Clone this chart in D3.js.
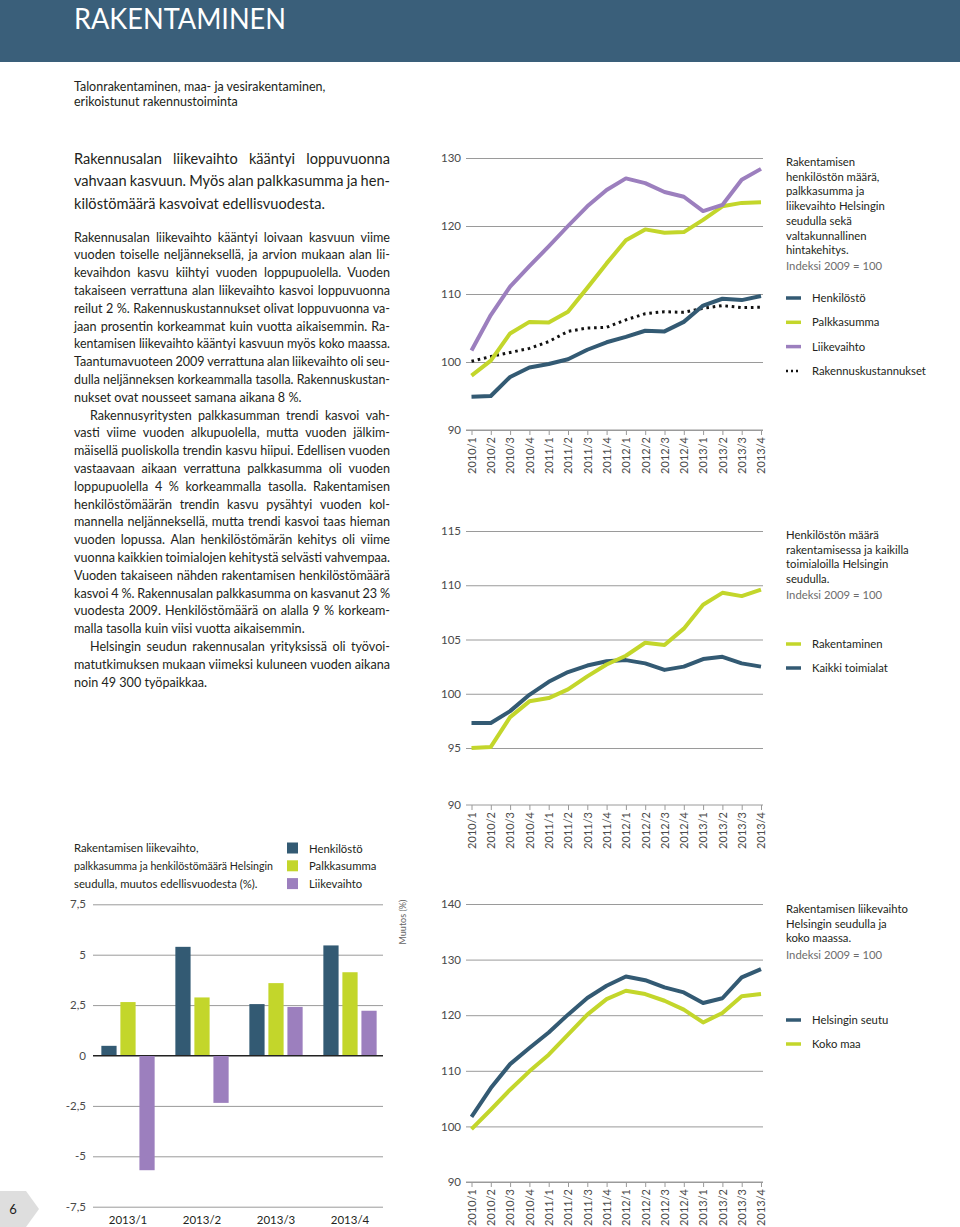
<!DOCTYPE html>
<html>
<head>
<meta charset="utf-8">
<script src="https://cdn.jsdelivr.net/npm/d3@7"></script>
<style>
  body { margin: 0; background: #fff; }
  svg { display: block; font-family: Lato, "Open Sans", sans-serif; }
</style>
</head>
<body>
<div id="page"></div>
<script>
// ---- data ----
var quarters = ["2010/1","2010/2","2010/3","2010/4","2011/1","2011/2","2011/3","2011/4",
                "2012/1","2012/2","2012/3","2012/4","2013/1","2013/2","2013/3","2013/4"];

// chart 1: Helsingin seutu, indeksi 2009 = 100
var henkilosto = [94.9, 95.0, 97.8, 99.2, 99.7, 100.4, 101.8, 102.9, 103.7, 104.6, 104.5, 105.9, 108.3, 109.3, 109.1, 109.7];
var palkkasumma = [98.0, 100.2, 104.2, 105.9, 105.8, 107.4, 110.9, 114.5, 117.9, 119.5, 119.0, 119.1, 120.9, 122.9, 123.4, 123.5];
var liikevaihto = [101.7, 106.9, 111.1, 114.1, 117.0, 120.0, 122.9, 125.3, 127.0, 126.3, 125.0, 124.3, 122.2, 123.1, 126.8, 128.4];
var kustannukset = [100.1, 100.8, 101.4, 102.0, 103.0, 104.5, 105.0, 105.1, 106.2, 107.1, 107.4, 107.3, 107.9, 108.3, 108.0, 108.05];

// chart 2: henkilöstön määrä
var rakentaminen = [95.0, 95.1, 97.85, 99.3, 99.6, 100.4, 101.6, 102.7, 103.5, 104.7, 104.5, 106.0, 108.2, 109.3, 109.0, 109.6];
var kaikkiToimialat = [97.3, 97.3, 98.4, 99.9, 101.1, 102.0, 102.6, 103.0, 103.1, 102.8, 102.2, 102.5, 103.2, 103.4, 102.8, 102.5];

// chart 3: liikevaihto
var helsinginSeutu = [101.7, 106.9, 111.2, 114.1, 116.9, 120.1, 123.1, 125.3, 126.95, 126.3, 125.0, 124.1, 122.2, 123.05, 126.8, 128.3];
var kokoMaa = [99.5, 103.0, 106.6, 109.9, 112.9, 116.5, 120.1, 122.9, 124.4, 123.8, 122.6, 121.0, 118.7, 120.4, 123.4, 123.8];

// bar chart: muutos edellisvuodesta (%)
var barQuarters = ["2013/1", "2013/2", "2013/3", "2013/4"];
var barHenkilosto = [0.48, 5.39, 2.55, 5.46];
var barPalkkasumma = [2.65, 2.88, 3.59, 4.13];
var barLiikevaihto = [-5.69, -2.35, 2.41, 2.22];
var barTicks = [7.5, 5, 2.5, 0, -2.5, -5, -7.5];

var blue = "#335a73", green = "#c3d62b", purple = "#9c7fbe";
var textColor = "#231f20", axisColor = "#4a4a4a", gridColor = "#9a9a9a";

var svg = d3.select("#page").append("svg")
  .attr("width", 960)
  .attr("height", 1227);

// ---- header ----
svg.append("rect").attr("x", 0).attr("y", 0).attr("width", 960).attr("height", 62).attr("fill", "#3a5f7a");
svg.append("text").attr("x", 74).attr("y", 28.5).attr("font-size", 28.5).attr("fill", "#fff")
  .attr("textLength", 212).attr("lengthAdjust", "spacingAndGlyphs")
  .text("RAKENTAMINEN");

svg.append("text").attr("x", 74).attr("y", 90.5).attr("font-size", 12.5).attr("fill", textColor)
  .text("Talonrakentaminen, maa- ja vesirakentaminen,");
svg.append("text").attr("x", 74).attr("y", 105.5).attr("font-size", 12.5).attr("fill", textColor)
  .text("erikoistunut rakennustoiminta");

// ---- justified text helper ----
function textLine(g, str, x, y, width, justify) {
  var t = g.append("text").attr("x", x).attr("y", y);
  if (!justify) { t.text(str); return; }
  var words = str.split(" ");
  var spans = words.map(function(w) { return t.append("tspan").text(w); });
  var widths = spans.map(function(s) { return s.node().getComputedTextLength(); });
  var gap = (width - d3.sum(widths)) / (words.length - 1);
  if (gap < 2.5) {
    // too tight: squeeze the whole line instead
    t.selectAll("tspan").remove();
    t.text(str).attr("textLength", width).attr("lengthAdjust", "spacingAndGlyphs");
    return;
  }
  var cx = x;
  spans.forEach(function(s, i) { s.attr("x", cx); cx += widths[i] + gap; });
}

var lead = [
  "Rakennusalan liikevaihto kääntyi loppuvuonna",
  "vahvaan kasvuun. Myös alan palkkasumma ja hen-",
  "kilöstömäärä kasvoivat edellisvuodesta."
];
var leadG = svg.append("g").attr("font-size", 14.6).attr("fill", textColor);
lead.forEach(function(l, i) {
  textLine(leadG, l, 74, 163.5 + i * 22.5, 316, i < lead.length - 1);
});

var paragraphs = [
  ["Rakennusalan liikevaihto kääntyi loivaan kasvuun viime",
   "vuoden toiselle neljänneksellä, ja arvion mukaan alan lii-",
   "kevaihdon kasvu kiihtyi vuoden loppupuolella. Vuoden",
   "takaiseen verrattuna alan liikevaihto kasvoi loppuvuonna",
   "reilut 2 %. Rakennuskustannukset olivat loppuvuonna va-",
   "jaan prosentin korkeammat kuin vuotta aikaisemmin. Ra-",
   "kentamisen liikevaihto kääntyi kasvuun myös koko maassa.",
   "Taantumavuoteen 2009 verrattuna alan liikevaihto oli seu-",
   "dulla neljänneksen korkeammalla tasolla. Rakennuskustan-",
   "nukset ovat nousseet samana aikana 8 %."],
  ["Rakennusyritysten palkkasumman trendi kasvoi vah-",
   "vasti viime vuoden alkupuolella, mutta vuoden jälkim-",
   "mäisellä puoliskolla trendin kasvu hiipui. Edellisen vuoden",
   "vastaavaan aikaan verrattuna palkkasumma oli vuoden",
   "loppupuolella 4 % korkeammalla tasolla. Rakentamisen",
   "henkilöstömäärän trendin kasvu pysähtyi vuoden kol-",
   "mannella neljänneksellä, mutta trendi kasvoi taas hieman",
   "vuoden lopussa. Alan henkilöstömärän kehitys oli viime",
   "vuonna kaikkien toimialojen kehitystä selvästi vahvempaa.",
   "Vuoden takaiseen nähden rakentamisen henkilöstömäärä",
   "kasvoi 4 %. Rakennusalan palkkasumma on kasvanut 23 %",
   "vuodesta 2009. Henkilöstömäärä on alalla 9 % korkeam-",
   "malla tasolla kuin viisi vuotta aikaisemmin."],
  ["Helsingin seudun rakennusalan yrityksissä oli työvoi-",
   "matutkimuksen mukaan viimeksi kuluneen vuoden aikana",
   "noin 49 300 työpaikkaa."]
];
var bodyG = svg.append("g").attr("font-size", 12.6).attr("fill", textColor);
var lineNo = 0;
paragraphs.forEach(function(p, pi) {
  p.forEach(function(l, i) {
    var indent = (pi > 0 && i === 0) ? 16 : 0;
    textLine(bodyG, l, 74 + indent, 241.5 + lineNo * 17.8, 316 - indent, i < p.length - 1);
    lineNo++;
  });
});

// ---- line charts ----
var x = d3.scalePoint().domain(quarters).range([471.5, 761]);

function gridAndLabels(y, ticks) {
  var g = svg.append("g")
    .attr("transform", "translate(466,0)")
    .call(d3.axisLeft(y).tickValues(ticks).tickSize(-297).tickPadding(5));
  g.select(".domain").remove();
  g.selectAll(".tick line").attr("stroke", gridColor);
  g.selectAll(".tick text").attr("fill", axisColor).attr("font-size", 11.5).attr("font-family", "Lato");
}

function quarterAxis(yPos) {
  var g = svg.append("g")
    .attr("transform", "translate(0," + yPos + ")")
    .call(d3.axisBottom(x).tickSizeInner(5).tickSizeOuter(0));
  g.select(".domain").attr("stroke", gridColor).attr("d", "M466,0H763");
  g.selectAll(".tick line").attr("stroke", gridColor);
  g.selectAll(".tick text")
    .attr("fill", axisColor).attr("font-size", 11).attr("font-family", "Lato")
    .attr("transform", "rotate(-90)")
    .attr("text-anchor", "end")
    .attr("x", -7).attr("y", 0).attr("dy", "0.35em");
}

function drawSeries(y, values, color, dashed) {
  var line = d3.line()
    .x(function(d, i) { return x(quarters[i]); })
    .y(function(d) { return y(d); });
  svg.append("path")
    .datum(values)
    .attr("fill", "none")
    .attr("stroke", dashed ? "#111" : color)
    .attr("stroke-width", dashed ? 3 : 4)
    .attr("stroke-linejoin", "round")
    .attr("stroke-dasharray", dashed ? "2.6,3.8" : null)
    .attr("d", line);
}

function legendBlock(x0, y0, titleLines, note, items, itemY, itemStep) {
  var g = svg.append("g").attr("font-size", 11.3).attr("fill", textColor);
  titleLines.forEach(function(l, i) {
    g.append("text").attr("x", x0).attr("y", y0 + i * 14.7).text(l);
  });
  g.append("text").attr("x", x0).attr("y", y0 + titleLines.length * 14.7 + 1.5)
    .attr("fill", "#6d6d6d").text(note);
  items.forEach(function(it, i) {
    var cy = itemY + i * itemStep;
    g.append("line")
      .attr("x1", x0).attr("x2", x0 + 15).attr("y1", cy).attr("y2", cy)
      .attr("stroke", it.dashed ? "#111" : it.color)
      .attr("stroke-width", it.dashed ? 2.5 : 3.5)
      .attr("stroke-dasharray", it.dashed ? "2,3" : null);
    g.append("text").attr("x", x0 + 26).attr("y", cy + 4).text(it.label);
  });
}

// chart 1
var y1 = d3.scaleLinear().domain([90, 130]).range([430, 158]);
gridAndLabels(y1, [90, 100, 110, 120, 130]);
quarterAxis(430);
drawSeries(y1, kustannukset, "#111", true);
drawSeries(y1, henkilosto, blue);
drawSeries(y1, palkkasumma, green);
drawSeries(y1, liikevaihto, purple);
legendBlock(786, 166, ["Rakentamisen", "henkilöstön määrä,", "palkkasumma ja",
  "liikevaihto  Helsingin", "seudulla sekä", "valtakunnallinen", "hintakehitys."],
  "Indeksi 2009 = 100",
  [{label: "Henkilöstö", color: blue}, {label: "Palkkasumma", color: green},
   {label: "Liikevaihto", color: purple}, {label: "Rakennuskustannukset", dashed: true}],
  298, 24.3);

// chart 2
var y2 = d3.scaleLinear().domain([95, 115]).range([748, 531]);
gridAndLabels(y2, [95, 100, 105, 110, 115]);
drawSeries(y2, kaikkiToimialat, blue);
drawSeries(y2, rakentaminen, green);
legendBlock(786, 539, ["Henkilöstön määrä", "rakentamisessa ja kaikilla",
  "toimialoilla Helsingin", "seudulla."], "Indeksi 2009 = 100",
  [{label: "Rakentaminen", color: green}, {label: "Kaikki toimialat", color: blue}],
  644, 24);

// stray quarter axis between charts
var y2b = d3.scaleLinear().domain([90, 100]).range([805, 737]);
var strayG = svg.append("g").attr("transform", "translate(466,0)")
  .call(d3.axisLeft(y2b).tickValues([90]).tickSize(0).tickPadding(5));
strayG.select(".domain").remove();
strayG.selectAll(".tick text").attr("fill", axisColor).attr("font-size", 11.5).attr("font-family", "Lato");
quarterAxis(805);

// chart 3
var y3 = d3.scaleLinear().domain([90, 140]).range([1182, 904]);
gridAndLabels(y3, [90, 100, 110, 120, 130, 140]);
quarterAxis(1182);
drawSeries(y3, kokoMaa, green);
drawSeries(y3, helsinginSeutu, blue);
legendBlock(786, 913, ["Rakentamisen liikevaihto", "Helsingin seudulla ja", "koko maassa."],
  "Indeksi 2009  = 100",
  [{label: "Helsingin seutu", color: blue}, {label: "Koko maa", color: green}],
  1020, 24);

// ---- bar chart ----
var yb = d3.scaleLinear().domain([-7.5, 7.5]).range([1206.7, 904.3]);
var xb = d3.scaleBand().domain(barQuarters).range([91, 387]).paddingInner(0.28).paddingOuter(0.14);
var barSeries = [
  {key: "Henkilöstö", values: barHenkilosto, color: blue},
  {key: "Palkkasumma", values: barPalkkasumma, color: green},
  {key: "Liikevaihto", values: barLiikevaihto, color: purple}
];
var xs = d3.scaleBand().domain(barSeries.map(function(s) { return s.key; }))
  .range([0, xb.bandwidth()]).paddingInner(0.2);

var bg = svg.append("g")
  .attr("transform", "translate(93,0)")
  .call(d3.axisLeft(yb).tickValues(barTicks).tickSize(-290).tickPadding(7)
    .tickFormat(function(d) { return String(d).replace(".", ","); }));
bg.select(".domain").remove();
bg.selectAll(".tick line").attr("stroke", function(d) { return d === 0 ? "#222" : gridColor; });
bg.selectAll(".tick text").attr("fill", axisColor).attr("font-size", 11.5).attr("font-family", "Lato");

barSeries.forEach(function(s) {
  svg.append("g").selectAll("rect")
    .data(s.values)
    .join("rect")
    .attr("x", function(d, i) { return xb(barQuarters[i]) + xs(s.key); })
    .attr("width", xs.bandwidth())
    .attr("y", function(d) { return yb(Math.max(0, d)); })
    .attr("height", function(d) { return Math.abs(yb(d) - yb(0)); })
    .attr("fill", s.color);
});
// redraw zero line on top
svg.append("line").attr("x1", 93).attr("x2", 383).attr("y1", yb(0)).attr("y2", yb(0))
  .attr("stroke", "#222").attr("stroke-width", 1);

var bx = svg.append("g")
  .attr("transform", "translate(0,1215.5)")
  .call(d3.axisBottom(xb).tickSize(0).tickPadding(0));
bx.select(".domain").remove();
bx.selectAll(".tick text").attr("fill", textColor).attr("font-size", 11.5).attr("font-family", "Lato");

// bar legend
var bl = svg.append("g").attr("font-size", 11.3).attr("fill", textColor);
var barTitle = ["Rakentamisen liikevaihto,", "palkkasumma ja henkilöstömäärä  Helsingin",
 "seudulla, muutos edellisvuodesta (%)."];
barTitle.forEach(function(l, i) {
  var t = bl.append("text").attr("x", 74).attr("y", 852 + i * 18).text(l);
  if (i === 1) t.attr("textLength", 199).attr("lengthAdjust", "spacingAndGlyphs");
});
barSeries.forEach(function(s, i) {
  bl.append("rect").attr("x", 287).attr("y", 842.5 + i * 17.8).attr("width", 11).attr("height", 11)
    .attr("fill", s.color);
  bl.append("text").attr("x", 309).attr("y", 852.5 + i * 17.8).text(s.key);
});

svg.append("text")
  .attr("transform", "translate(406,922) rotate(-90)")
  .attr("text-anchor", "middle").attr("font-size", 9).attr("fill", "#666")
  .text("Muutos (%)");

// ---- page number ----
svg.append("path").attr("d", "M0,1191H26L39,1209L26,1227H0Z").attr("fill", "#dedede");
svg.append("text").attr("x", 13).attr("y", 1214).attr("font-size", 13).attr("fill", textColor)
  .attr("text-anchor", "middle").text("6");
</script>
</body>
</html>
